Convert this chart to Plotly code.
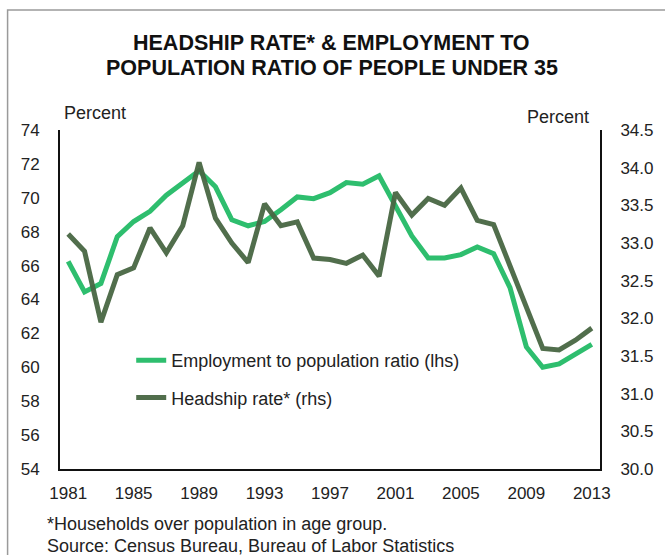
import plotly.graph_objects as go

years = list(range(1981, 2014))
employment = [66.25, 64.45, 64.95, 67.7, 68.6, 69.2, 70.15, 70.9, 71.6, 70.65, 68.7, 68.35,
              68.6, 69.3, 70.05, 69.95, 70.3, 70.9, 70.8, 71.3, 69.5, 67.75, 66.45, 66.45,
              66.65, 67.1, 66.7, 64.7, 61.2, 60.0, 60.2, 60.8, 61.35]
headship = [33.12, 32.89, 31.95, 32.58, 32.67, 33.2, 32.87, 33.23, 34.07, 33.33, 33.0, 32.74,
            33.52, 33.23, 33.28, 32.8, 32.78, 32.73, 32.84, 32.56, 33.67, 33.37, 33.59, 33.5,
            33.73, 33.3, 33.245, 32.7, 32.15, 31.6, 31.58, 31.71, 31.87]
xticks = list(range(1981, 2014, 4))
left_ticks = list(range(54, 75, 2))
right_ticks = [30.0, 30.5, 31.0, 31.5, 32.0, 32.5, 33.0, 33.5, 34.0, 34.5]
title_lines = ["HEADSHIP RATE* &amp; EMPLOYMENT TO", "POPULATION RATIO OF PEOPLE UNDER 35"]

GREEN = "rgb(46,190,110)"
DARK = "rgba(72,102,66,0.95)"
FONT = "Liberation Sans, Arial, sans-serif"
TXT = "#222222"

W, H = 665, 555
L, R, T, B = 60, 606, 130, 469

fig = go.Figure()
fig.add_trace(go.Scatter(x=years, y=employment, mode="lines", name="Employment to population ratio (lhs)",
                         line=dict(color=GREEN, width=5), legendgroup="a"))
fig.add_trace(go.Scatter(x=years, y=headship, mode="lines", name="Headship rate* (rhs)",
                         line=dict(color=DARK, width=5), yaxis="y2", legendgroup="b"))

def px_x(x):
    return (x - L) / (R - L)

def px_y(y):
    return (B - y) / (B - T)

annotations = []
for txt, yc in zip(title_lines, [42.5, 68]):
    annotations.append(dict(text=f"<b>{txt}</b>", xref="paper", yref="paper", x=px_x(335), y=px_y(yc),
                            xanchor="center", yanchor="middle", showarrow=False,
                            font=dict(size=21.5, color="#111")))
annotations += [
    dict(text="Percent", xref="paper", yref="paper", x=px_x(62), y=px_y(113),
         xanchor="left", yanchor="middle", showarrow=False, font=dict(size=18, color=TXT)),
    dict(text="Percent", xref="paper", yref="paper", x=px_x(597), y=px_y(117),
         xanchor="right", yanchor="middle", showarrow=False, font=dict(size=18, color=TXT)),
    dict(text="*Households over population in age group.", xref="paper", yref="paper",
         x=px_x(45), y=px_y(524), xanchor="left", yanchor="middle", showarrow=False,
         font=dict(size=18, color=TXT)),
    dict(text="Source: Census Bureau, Bureau of Labor Statistics", xref="paper", yref="paper",
         x=px_x(45), y=px_y(546), xanchor="left", yanchor="middle", showarrow=False,
         font=dict(size=18, color=TXT)),
]

fig.update_layout(
    width=W, height=H,
    margin=dict(l=L, r=W - R, t=T, b=H - B, pad=0),
    paper_bgcolor="white", plot_bgcolor="white",
    font=dict(family=FONT, size=17, color=TXT),
    showlegend=True,
    legend=dict(x=px_x(132), y=px_y(342), xanchor="left", yanchor="top",
                bgcolor="rgba(0,0,0,0)", font=dict(size=18, color=TXT),
                tracegroupgap=11, itemwidth=30),
    xaxis=dict(range=[1980.5, 2013.5], tickvals=xticks, ticktext=[str(v) for v in xticks],
               showgrid=False, zeroline=False, showline=True, linecolor="#111", linewidth=2,
               ticks="", ticklabelstandoff=8, tickfont=dict(size=17, color=TXT)),
    yaxis=dict(range=[54, 74], tickvals=left_ticks, showgrid=False, zeroline=False,
               showline=True, linecolor="#111", linewidth=2, ticks="",
               ticklabelstandoff=15, tickfont=dict(size=17, color=TXT)),
    yaxis2=dict(range=[30, 34.5], tickvals=right_ticks, ticktext=[f"{v:.1f}" for v in right_ticks],
                overlaying="y", side="right", showgrid=False, zeroline=False,
                showline=True, linecolor="#111", linewidth=2, ticks="",
                ticklabelstandoff=15, tickfont=dict(size=17, color=TXT)),
    shapes=[dict(type="rect", xref="paper", yref="paper",
                 x0=px_x(7), x1=px_x(700), y0=px_y(600), y1=px_y(10),
                 line=dict(color="#9a9a9a", width=1.5), fillcolor="rgba(0,0,0,0)", layer="below")],
    annotations=annotations,
)

fig.write_html("out.html", config={"displayModeBar": False},
               post_script="document.body.style.margin='0px';")
